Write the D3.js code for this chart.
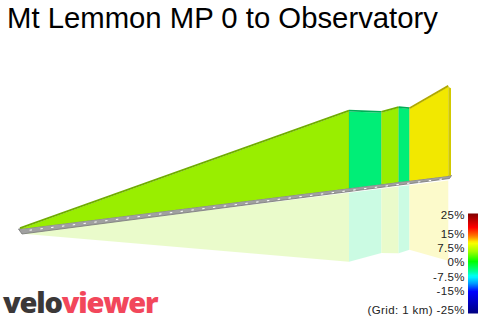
<!DOCTYPE html>
<html><head><meta charset="utf-8">
<script src="https://cdn.jsdelivr.net/npm/d3@7"></script>
<style>body{margin:0;background:#fff}svg{display:block}</style>
</head><body>
<svg id="c" width="480" height="321"></svg>
<script>
// ---- data ----
const title = "Mt Lemmon MP 0 to Observatory";
const distKm = [0, 30.5, 33.5, 35.1, 36.1, 39.7];       // profile vertices (km)
const elevM  = [820, 2510, 2395, 2455, 2400, 2785];     // elevation (m)
const gridKm = 40;                                      // baseline length, 1 km grid
const legendTicks = [25, 15, 7.5, 0, -7.5, -15, -25];   // gradient legend labels (%)
const legendStops = [25, 18, 13.5, 10.4, 6, 1, -4, -6.5, -10, -14, -25];
const gradeBreaks = [0, 7.5];                           // grade bins (%)

// ---- scales ----
const svg = d3.select("#c");
const x = d3.scaleLinear().domain([0, gridKm]).range([20, 451.5]);
const baseY = d3.scaleLinear().domain([0, gridKm]).range([229, 175.5]);
const h = d3.scaleLinear().domain([820, 2785]).range([0, 89.2]);
const gradeColor = d3.scaleThreshold().domain(gradeBreaks).range(["#00ee77", "#99ee00", "#f2e800"]);
const legendColor = d3.scaleLinear().domain(legendStops)
  .range(["#800000","#ff0000","#ff8000","#ffff00","#a0ff00","#00ff00","#00ff99","#00ffff","#0099ff","#0000ff","#000080"]);

const pts = distKm.map((d, i) => ({d, e: elevM[i]}));
const segs = d3.pairs(pts).map(([a, b]) => ({a, b, grade: (b.e - a.e) / (b.d - a.d) / 10}));
const topY = p => baseY(p.d) - h(p.e);
const slabBot = d => baseY(d) + 4.5;

// ---- reflection ----
const gRef = svg.append("g").attr("opacity", 0.2);
gRef.selectAll("polygon").data(segs).join("polygon")
  .attr("points", s => [
    [x(s.a.d), slabBot(s.a.d)], [x(s.b.d), slabBot(s.b.d)],
    [x(s.b.d), slabBot(s.b.d) + 0.9 * h(s.b.e)], [x(s.a.d), slabBot(s.a.d) + 0.9 * h(s.a.e)]
  ].join(" "))
  .attr("fill", s => gradeColor(s.grade));

// ---- base slab ----
const x0 = x(0), x1 = x(gridKm);
svg.append("polygon")
  .attr("points", [[x0 - 1.5, baseY(0)], [x1, baseY(gridKm)], [x1 - 2, baseY(gridKm) + 3], [x0 + 2, baseY(0) + 5]].join(" "))
  .attr("fill", "#a0a0a0").attr("stroke", "#767676").attr("stroke-width", 0.8);
const slope = (baseY(gridKm) - baseY(0)) / (x1 - x0);
svg.append("g").selectAll("line").data(d3.range(1, gridKm)).join("line")
  .attr("x1", k => x(k) - 1.2).attr("x2", k => x(k) + 1.2)
  .attr("y1", k => baseY(k) + 2.4 - 1.2 * slope).attr("y2", k => baseY(k) + 2.4 + 1.2 * slope)
  .attr("stroke", "#fff").attr("stroke-width", 1);

// ---- profile faces ----
const gP = svg.append("g");
gP.selectAll("polygon").data(segs).join("polygon")
  .attr("points", s => [
    [x(s.a.d), topY(s.a)], [x(s.b.d), topY(s.b)], [x(s.b.d), baseY(s.b.d)], [x(s.a.d), baseY(s.a.d)]
  ].join(" "))
  .attr("fill", s => gradeColor(s.grade));
gP.selectAll("line.b").data(segs.slice(1)).join("line").attr("class", "b")
  .attr("x1", s => x(s.a.d)).attr("x2", s => x(s.a.d))
  .attr("y1", s => topY(s.a)).attr("y2", s => baseY(s.a.d))
  .attr("stroke", "#000").attr("stroke-opacity", 0.08).attr("stroke-width", 1);
gP.selectAll("line.t").data(segs).join("line").attr("class", "t")
  .attr("x1", s => x(s.a.d)).attr("x2", s => x(s.b.d))
  .attr("y1", s => topY(s.a) - 0.8).attr("y2", s => topY(s.b) - 0.8)
  .attr("stroke", s => d3.color(gradeColor(s.grade)).darker(0.9)).attr("stroke-width", 1.8);
const last = pts[pts.length - 1], lastSeg = segs[segs.length - 1];
svg.append("polygon")
  .attr("points", [[x(last.d), topY(last)], [x1 - 0.5, topY(last) + 1.5], [x1 - 0.5, baseY(gridKm)], [x(last.d), baseY(last.d)]].join(" "))
  .attr("fill", d3.color(gradeColor(lastSeg.grade)).darker(0.4));

// ---- legend ----
const defs = svg.append("defs");
const lg = defs.append("linearGradient").attr("id", "lg").attr("x1", 0).attr("x2", 0).attr("y1", 0).attr("y2", 1);
lg.selectAll("stop").data(d3.range(0, 51)).join("stop")
  .attr("offset", i => i / 50).attr("stop-color", i => legendColor(25 - i));
const legY = d3.scaleLinear().domain([-25, 25]).range([313.5, 213.5]);
const labY = d3.scaleLinear().domain([-25, 25]).range([310, 214.5]);
svg.append("rect").attr("x", 468).attr("y", legY(25)).attr("width", 10).attr("height", legY(-25) - legY(25))
  .attr("fill", "url(#lg)");
svg.append("g").selectAll("text").data(legendTicks).join("text")
  .attr("x", 465).attr("y", t => labY(t)).attr("dy", "0.36em").attr("text-anchor", "end")
  .attr("font-family", "Liberation Sans, Arial, sans-serif").attr("font-size", 11.5).attr("letter-spacing", 0.4)
  .attr("fill", "#222")
  .text(t => (t === -25 ? `(Grid: 1 km) ${t}%` : `${t}%`));

// ---- title & logo ----
svg.append("text").attr("x", 7).attr("y", 27.5)
  .attr("font-family", "Liberation Sans, Arial, sans-serif").attr("font-size", 29.3).attr("fill", "#000")
  .text(title);
const logo = svg.append("text").attr("x", 3).attr("y", 313)
  .attr("font-family", "Open Sans, sans-serif").attr("font-weight", 800).attr("font-size", 29)
  .attr("letter-spacing", -1.2);
logo.append("tspan").attr("fill", "#3b3838").text("velo");
logo.append("tspan").attr("fill", "#f2475b").text("viewer");
</script>
</body></html>
